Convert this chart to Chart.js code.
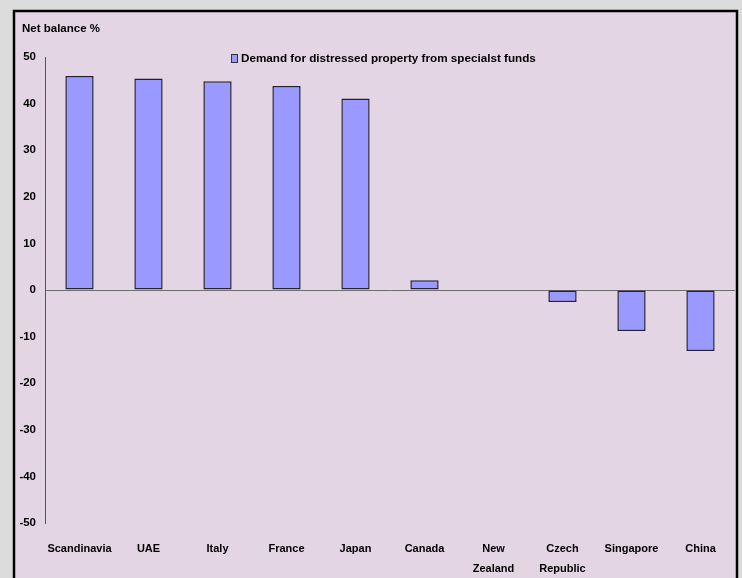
<!DOCTYPE html>
<html><head><meta charset="utf-8">
<script src="https://cdn.jsdelivr.net/npm/chart.js@4/dist/chart.umd.min.js"></script>
<style>html,body{margin:0;padding:0;background:#dcdcdc;}canvas{display:block;}</style>
</head><body>
<canvas id="c" width="742" height="578"></canvas>
<script>
const categories = ['Scandinavia','UAE','Italy','France','Japan','Canada',['New','Zealand'],['Czech','Republic'],'Singapore','China'];
const seriesName = 'Demand for distressed property from specialst funds';
const values = [45.9, 45.4, 44.8, 43.8, 41.1, 2.1, 0, -2.6, -8.8, -13.1];
const yTitle = 'Net balance %';
const yMin = -50, yMax = 50, yStep = 10;

const FONT = '"Liberation Sans", Arial, sans-serif';

const panelPlugin = {
  id: 'panel',
  beforeDraw(chart) {
    const ctx = chart.ctx;
    ctx.save();
    ctx.fillStyle = '#dcdcdc';
    ctx.fillRect(0, 0, chart.width, chart.height);
    ctx.fillStyle = '#e3d5e3';
    ctx.fillRect(14, 11, 723, 600);
    ctx.strokeStyle = '#000';
    ctx.lineWidth = 2.5;
    ctx.strokeRect(14, 11, 723, 600);
    ctx.restore();
  },
  afterDraw(chart) {
    const ctx = chart.ctx;
    ctx.save();
    ctx.fillStyle = '#000';
    ctx.font = 'bold 11.5px ' + FONT;
    ctx.textBaseline = 'middle';
    ctx.textAlign = 'left';
    ctx.fillText(yTitle, 22, 29);
    // legend
    ctx.fillStyle = '#9999ff';
    ctx.fillRect(231.5, 54.5, 6, 8);
    ctx.strokeStyle = '#333';
    ctx.lineWidth = 1;
    ctx.strokeRect(231.5, 54.5, 6, 8);
    ctx.fillStyle = '#000';
    ctx.font = 'bold 11.7px ' + FONT;
    ctx.fillText(seriesName, 241, 59);
    ctx.restore();
  }
};

new Chart(document.getElementById('c'), {
  type: 'bar',
  data: {
    labels: categories,
    datasets: [{
      label: seriesName,
      data: values,
      backgroundColor: '#9999ff',
      borderColor: '#222233',
      borderWidth: 1.5,
      borderSkipped: false,
      categoryPercentage: 1,
      barPercentage: 0.41
    }]
  },
  options: {
    responsive: false,
    devicePixelRatio: 1,
    animation: false,
    layout: { padding: { left: 0, right: 7, top: 57, bottom: 0 } },
    plugins: { legend: { display: false }, tooltip: { enabled: false }, title: { display: false } },
    scales: {
      x: {
        grid: { display: false },
        border: { display: false },
        ticks: { color: '#000', font: { family: FONT, size: 11, weight: 'bold', lineHeight: 1.8 }, padding: 8, maxRotation: 0, autoSkip: false },
        afterFit(s) { s.height = 55; }
      },
      y: {
        min: yMin, max: yMax,
        ticks: { stepSize: yStep, color: '#000', font: { family: FONT, size: 11.5, weight: 'bold' }, padding: 9 },
        grid: {
          drawTicks: false,
          color: (c) => (c.tick && c.tick.value === 0) ? '#6e6e6e' : 'rgba(0,0,0,0)',
          lineWidth: 1
        },
        border: { display: true, color: '#555', width: 1 },
        afterFit(s) { s.width = 45; }
      }
    }
  },
  plugins: [panelPlugin]
});
</script>
</body></html>
